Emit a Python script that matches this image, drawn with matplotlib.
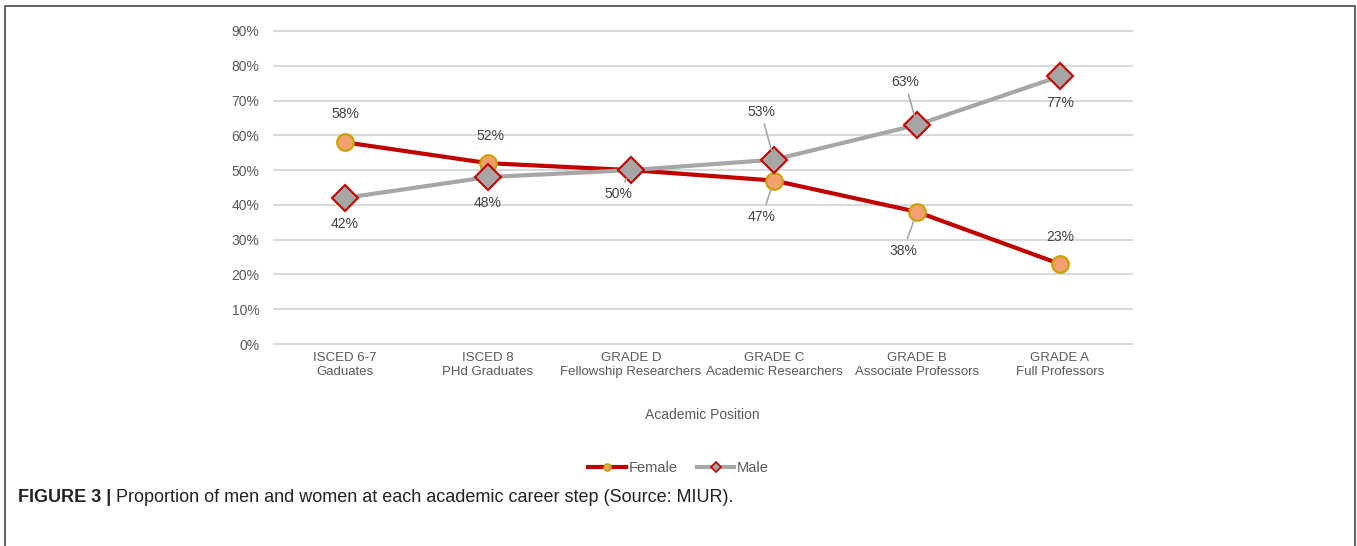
import matplotlib.pyplot as plt
from matplotlib.lines import Line2D
from matplotlib.ticker import FuncFormatter

plt.rcParams['font.family'] = ['Liberation Sans', 'DejaVu Sans']

positions = ['ISCED 6-7\nGaduates', 'ISCED 8\nPHd Graduates', 'GRADE D\nFellowship Researchers',
             'GRADE C\nAcademic Researchers', 'GRADE B\nAssociate Professors', 'GRADE A\nFull Professors']
female = [58, 52, 50, 47, 38, 23]
male = [42, 48, 50, 53, 63, 77]

# label offsets in pixels (dx, dy) and whether a leader line is drawn
female_offsets = [(0, 28), (2, 27), (-13, -24), (-12, -36), (-14, -39), (0, 27)]
female_leader = [False, False, True, True, True, False]
male_offsets = [(0, -26), (0, -26), None, (-13, 48), (-12, 43), (0, -27)]
male_leader = [False, False, False, True, True, False]

RED = '#C00000'
GREY = '#A6A6A6'
TXT = '#595959'

fig = plt.figure(figsize=(13.57, 5.46), dpi=100)
ax = fig.add_axes([273.5 / 1357, 1 - 344 / 546, 858 / 1357, 313 / 546])

x = range(len(positions))
ax.plot(x, female, color=RED, lw=3, marker='o', ms=12, mfc='#F4A06E', mec='#C9A000', mew=1.5, zorder=3)
ax.plot(x, male, color=GREY, lw=3, marker='D', ms=13, mfc=GREY, mec=RED, mew=1.5, zorder=4)


def label_series(values, offsets, leaders):
    for i, v in enumerate(values):
        if offsets[i] is None:
            continue
        dx, dy = offsets[i]
        props = None
        if leaders[i]:
            props = dict(arrowstyle='-', color='#A6A6A6', lw=1.2, shrinkA=2, shrinkB=7)
        ax.annotate(f'{v}%', (i, v), xytext=(dx, dy), textcoords='offset pixels',
                    ha='center', va='center', fontsize=10, color='#404040',
                    arrowprops=props, zorder=5)


label_series(female, female_offsets, female_leader)
label_series(male, male_offsets, male_leader)

ax.set_xlim(-0.5, len(positions) - 0.5)
ax.set_ylim(0, 90)
ax.set_yticks(range(0, 91, 10))
ax.yaxis.set_major_formatter(FuncFormatter(lambda v, p: f'{int(v)}%'))
ax.set_xticks(list(x))
ax.set_xticklabels(positions, fontsize=9.5, color=TXT, linespacing=1.15)
ax.tick_params(axis='y', labelsize=10, labelcolor=TXT, length=0, pad=10)
ax.tick_params(axis='x', length=0, pad=6)
ax.grid(axis='y', color='#D9D9D9', lw=1.5)
for gl in ax.get_ygridlines():
    gl.set_clip_on(False)
ax.set_axisbelow(True)
for s in ax.spines.values():
    s.set_visible(False)

ax.set_xlabel('Academic Position', fontsize=10, color=TXT, labelpad=22)

handles = [
    Line2D([], [], color=RED, lw=3, marker='o', ms=5, mfc='#F4A06E', mec='#C9A000', mew=1.2),
    Line2D([], [], color=GREY, lw=3, marker='D', ms=5, mfc=GREY, mec=RED, mew=1.2),
]
fig.legend(handles, ['Female', 'Male'], loc='center', bbox_to_anchor=(0.5, 1 - 468 / 546),
           ncol=2, frameon=False, fontsize=10.5, handlelength=2.6, handletextpad=0.15,
           columnspacing=1.3, labelcolor=TXT)

# outer frame, open at the bottom
fig.add_artist(Line2D([5 / 1357, 5 / 1357, 1355 / 1357, 1355 / 1357],
                      [0, 1 - 6 / 546, 1 - 6 / 546, 0],
                      transform=fig.transFigure, color='#555555', lw=1.3))

cap_y = 1 - 498 / 546
t = fig.text(18 / 1357, cap_y, 'FIGURE 3 |', fontsize=13, fontweight='bold',
             color='#222222', va='center')
fig.canvas.draw()
bb = t.get_window_extent()
fig.text((bb.x1 + 5) / 1357, cap_y,
         'Proportion of men and women at each academic career step (Source: MIUR).',
         fontsize=13, color='#222222', va='center')

fig.savefig('out.png', dpi=100)
